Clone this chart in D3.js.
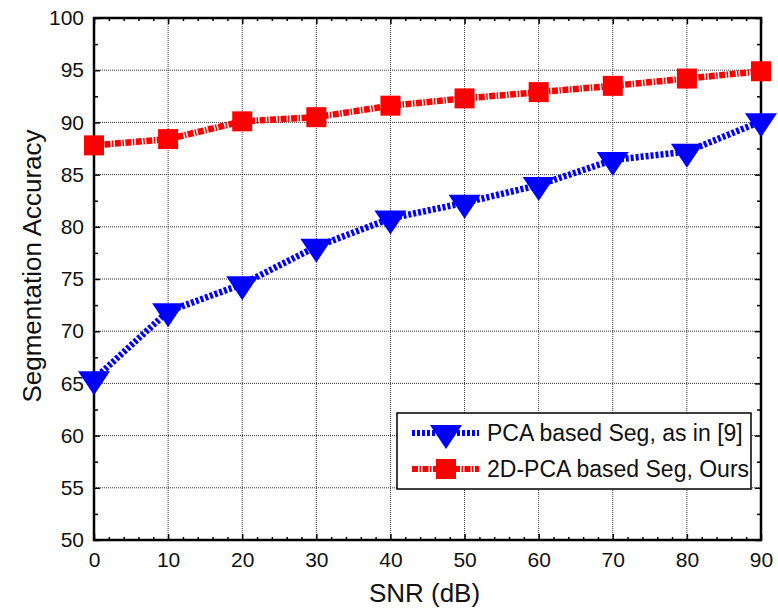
<!DOCTYPE html>
<html>
<head>
<meta charset="utf-8">
<script src="https://cdn.jsdelivr.net/npm/d3@7"></script>
<style>
  body { margin: 0; background: #fff; }
  text { font-family: "Liberation Sans", Arial, sans-serif; fill: #111; }
</style>
</head>
<body>
<svg id="chart"></svg>
<script>
const snr = [0, 10, 20, 30, 40, 50, 60, 70, 80, 90];
const pcaSeg = [65.4, 71.9, 74.5, 78.1, 80.8, 82.3, 84.0, 86.4, 87.2, 90.1];
const pca2dSeg = [87.8, 88.4, 90.1, 90.5, 91.6, 92.3, 92.9, 93.5, 94.2, 94.9];
const xTicks = [0, 10, 20, 30, 40, 50, 60, 70, 80, 90];
const yTicks = [50, 55, 60, 65, 70, 75, 80, 85, 90, 95, 100];
const legendLabels = ["PCA based Seg, as in [9]", "2D-PCA based Seg, Ours"];

const W = 778, H = 611;
const margin = { top: 18, right: 17, bottom: 71, left: 94 };
const w = W - margin.left - margin.right;
const h = H - margin.top - margin.bottom;

const svg = d3.select("#chart").attr("width", W).attr("height", H);
const g = svg.append("g").attr("transform", `translate(${margin.left},${margin.top})`);

const x = d3.scaleLinear().domain([0, 90]).range([0, w]);
const y = d3.scaleLinear().domain([50, 100]).range([h, 0]);

// grid
const grid = g.append("g")
    .attr("stroke", "#333").attr("stroke-width", 1).attr("stroke-dasharray", "1,1");
grid.selectAll("line.vx").data(xTicks.slice(1)).join("line")
    .attr("x1", d => x(d)).attr("x2", d => x(d)).attr("y1", 0).attr("y2", h);
grid.selectAll("line.hy").data(yTicks.slice(1, -1)).join("line")
    .attr("x1", 0).attr("x2", w).attr("y1", d => y(d)).attr("y2", d => y(d));

// axes with inward ticks
const xMinor = d3.range(0, 91, 2).filter(v => v % 10 !== 0);
const yMinor = d3.range(52.5, 100, 5);

g.append("g").attr("transform", `translate(0,${h})`)
    .call(d3.axisBottom(x).tickValues(xTicks).tickSizeInner(-6).tickSizeOuter(0).tickPadding(12));
g.append("g")
    .call(d3.axisLeft(y).tickValues(yTicks).tickSizeInner(-6).tickSizeOuter(0).tickPadding(10));
g.append("g")
    .call(d3.axisTop(x).tickValues(xTicks).tickSizeInner(-6).tickSizeOuter(0).tickFormat(""));
g.append("g").attr("transform", `translate(${w},0)`)
    .call(d3.axisRight(y).tickValues(yTicks).tickSizeInner(-6).tickSizeOuter(0).tickFormat(""));

g.append("g").attr("transform", `translate(0,${h})`)
    .call(d3.axisBottom(x).tickValues(xMinor).tickSize(-3).tickFormat(""));
g.append("g")
    .call(d3.axisTop(x).tickValues(xMinor).tickSize(-3).tickFormat(""));
g.append("g")
    .call(d3.axisLeft(y).tickValues(yMinor).tickSize(-4).tickFormat(""));
g.append("g").attr("transform", `translate(${w},0)`)
    .call(d3.axisRight(y).tickValues(yMinor).tickSize(-4).tickFormat(""));

g.selectAll(".domain").remove();
g.selectAll(".tick line").attr("stroke", "#000").attr("stroke-width", 1.5);
g.selectAll(".tick text").attr("font-size", 21).attr("fill", "#111")
    .style("font-family", "'Liberation Sans', Arial, sans-serif");

// frame
g.append("rect").attr("width", w).attr("height", h)
    .attr("fill", "none").attr("stroke", "#000").attr("stroke-width", 2.5);

// series
const series = [
  { values: pcaSeg, color: "#0000ff", dash: "3,2", marker: "tri" },
  { values: pca2dSeg, color: "#ff0000", dash: "6,1.5,1.5,1.5", marker: "sq" }
];

const line = d3.line().x((d, i) => x(snr[i])).y(d => y(d));
const triPath = "M-16,-8L16,-8L0,16Z";

function drawMarker(sel, s) {
  if (s.marker === "tri") {
    sel.append("path").attr("d", triPath).attr("fill", s.color);
  } else {
    sel.append("rect").attr("x", -10).attr("y", -10).attr("width", 20).attr("height", 20)
        .attr("fill", s.color);
  }
}

series.forEach(s => {
  g.append("path").datum(s.values)
      .attr("d", line).attr("fill", "none")
      .attr("stroke", s.color).attr("stroke-width", 6.5)
      .attr("stroke-dasharray", s.dash);
  g.append("g").selectAll("g").data(s.values).join("g")
      .attr("transform", (d, i) => `translate(${x(snr[i])},${y(d)})`)
      .each(function() { drawMarker(d3.select(this), s); });
});

// legend
const lg = g.append("g").attr("transform", `translate(${397 - margin.left},${413 - margin.top})`);
lg.append("rect").attr("width", 354).attr("height", 76)
    .attr("fill", "#fff").attr("stroke", "#000").attr("stroke-width", 1.5);
series.forEach((s, i) => {
  const ry = 20 + i * 36;
  lg.append("line").attr("x1", 15).attr("x2", 82).attr("y1", ry).attr("y2", ry)
      .attr("stroke", s.color).attr("stroke-width", 6).attr("stroke-dasharray", s.dash);
  drawMarker(lg.append("g").attr("transform", `translate(49,${ry})`), s);
  lg.append("text").attr("x", 90).attr("y", ry).attr("dy", "0.36em")
      .attr("font-size", 23).text(legendLabels[i]);
});

// axis titles
svg.append("text").attr("x", margin.left + w / 2 - 3).attr("y", 602)
    .attr("text-anchor", "middle").attr("font-size", 26).text("SNR (dB)");
svg.append("text").attr("transform", `translate(41,266) rotate(-90)`)
    .attr("text-anchor", "middle").attr("font-size", 26).text("Segmentation Accuracy");
</script>
</body>
</html>
